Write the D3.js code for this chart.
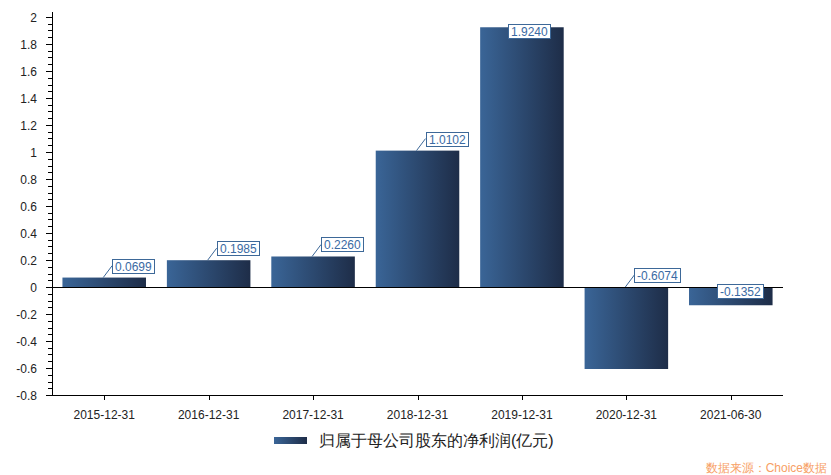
<!DOCTYPE html>
<html><head><meta charset="utf-8">
<script src="https://cdn.jsdelivr.net/npm/d3@7"></script>
<style>
body{margin:0;background:#fff;}
svg{display:block;}
text{font-family:"Liberation Sans",Arial,sans-serif;}
</style></head>
<body><svg id="c" width="831" height="475"></svg>
<script>
const categories = ["2015-12-31","2016-12-31","2017-12-31","2018-12-31","2019-12-31","2020-12-31","2021-06-30"];
const values = [0.0699,0.1985,0.2260,1.0102,1.9240,-0.6074,-0.1352];
const labels = ["0.0699","0.1985","0.2260","1.0102","1.9240","-0.6074","-0.1352"];
const yTicks = [-0.8,-0.6,-0.4,-0.2,0,0.2,0.4,0.6,0.8,1,1.2,1.4,1.6,1.8,2];
const seriesName = "归属于母公司股东的净利润(亿元)";
const sourceText = "数据来源：Choice数据";

const svg = d3.select("#c");
const L = 52, R = 783, T = 17, B = 395;
const x = d3.scaleBand().domain(categories).range([L, R]).paddingInner(0.2).paddingOuter(0.1);
const y = d3.scaleLinear().domain([-0.8, 2]).range([B, T]);

const defs = svg.append("defs");
const g = defs.append("linearGradient").attr("id","bg").attr("x1","0").attr("x2","1").attr("y1","0").attr("y2","0");
g.append("stop").attr("offset","0").attr("stop-color","#3a6597");
g.append("stop").attr("offset","1").attr("stop-color","#1e2d48");

// bars
svg.append("g").selectAll("rect").data(values).join("rect")
  .attr("x",(d,i)=>x(categories[i]))
  .attr("width",x.bandwidth())
  .attr("y",d=>Math.min(y(d),y(0)))
  .attr("height",d=>Math.abs(y(d)-y(0)))
  .attr("fill","url(#bg)");

// y axis
const minor = d3.range(-0.8, 2.0001, 0.05).map(v=>+v.toFixed(2)).filter(v=>!yTicks.some(t=>Math.abs(t-v)<1e-6));
const ya = svg.append("g");
ya.append("line").attr("x1",L+0.5).attr("x2",L+0.5).attr("y1",T-5).attr("y2",B).attr("stroke","#000");
ya.selectAll("line.mj").data(yTicks).join("line").attr("class","mj")
  .attr("x1",L-6).attr("x2",L).attr("y1",d=>Math.round(y(d))+0.5).attr("y2",d=>Math.round(y(d))+0.5).attr("stroke","#000");
ya.selectAll("line.mn").data(minor).join("line").attr("class","mn")
  .attr("x1",L-4).attr("x2",L).attr("y1",d=>Math.round(y(d))+0.5).attr("y2",d=>Math.round(y(d))+0.5).attr("stroke","#000");
ya.selectAll("text").data(yTicks).join("text")
  .attr("x",37).attr("y",d=>y(d)+4.5).attr("text-anchor","end")
  .attr("font-size","12px").attr("fill","#222").text(d=>String(d));

// zero line & bottom axis
svg.append("line").attr("x1",L).attr("x2",R).attr("y1",Math.round(y(0))+0.5).attr("y2",Math.round(y(0))+0.5).attr("stroke","#000");
svg.append("line").attr("x1",L).attr("x2",R).attr("y1",B+0.5).attr("y2",B+0.5).attr("stroke","#000");
const xa = svg.append("g");
xa.selectAll("line").data(categories).join("line")
  .attr("x1",d=>Math.round(x(d)+x.bandwidth()/2)+0.5).attr("x2",d=>Math.round(x(d)+x.bandwidth()/2)+0.5)
  .attr("y1",B).attr("y2",B+5).attr("stroke","#000");
xa.selectAll("text").data(categories).join("text")
  .attr("x",d=>x(d)+x.bandwidth()/2).attr("y",419).attr("text-anchor","middle")
  .attr("font-size","12px").attr("fill","#222").text(d=>d);

// data labels
const lg = svg.append("g");
values.forEach((v,i)=>{
  const cx = x(categories[i]) + x.bandwidth()/2;
  const ay = Math.min(y(v), y(0));
  const t = lg.append("text").attr("font-size","12px").attr("fill","#3a6aa3").text(labels[i]);
  const w = t.node().getComputedTextLength() + 5;
  const h = 14;
  let left = cx + 8, top = ay - 12 - h/2, leader = true;
  if (top < T || left + w > R) { left = cx - 13.5; top = ay - 3; leader = false; }
  if (leader) {
    lg.insert("line","text").attr("x1",cx-1).attr("y1",ay).attr("x2",left).attr("y2",ay-12)
      .attr("stroke","#3d6898").attr("stroke-width",1);
  }
  lg.insert("rect","text").attr("x",Math.round(left)+0.5).attr("y",Math.round(top)+0.5).attr("width",Math.round(w)).attr("height",h)
    .attr("fill","#fff").attr("stroke","#3d6898").attr("stroke-width",1);
  t.attr("x",Math.round(left)+3).attr("y",Math.round(top)+12);
  t.raise();
});

// legend
svg.append("rect").attr("x",274).attr("y",437).attr("width",33).attr("height",7).attr("fill","url(#bg)");
svg.append("text").attr("x",319).attr("y",446).attr("font-size","16px").attr("fill","#222")
  .attr("font-family","'Noto Sans CJK SC',sans-serif").text(seriesName);

// source
svg.append("text").attr("x",827).attr("y",472).attr("text-anchor","end").attr("font-size","12px")
  .attr("fill","#f7a064").attr("font-family","'Noto Sans CJK SC',sans-serif").text(sourceText);
</script></body></html>
